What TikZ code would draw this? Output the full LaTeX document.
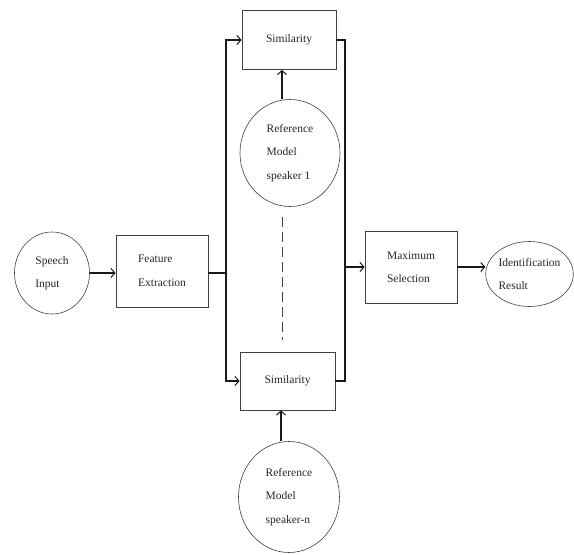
\documentclass[tikz,border=0pt]{standalone}
\usepackage{fontspec}
\setmainfont{Liberation Serif}
\usetikzlibrary{arrows.meta,shapes.geometric}
\begin{document}
\begin{tikzpicture}[x=1pt,y=-1pt,
  every node/.style={font=\fontsize{11.5}{23.5}\selectfont, text=black!85, align=left, inner sep=0pt},
  blk/.style={draw=black!75, line width=0.8pt, rectangle},
  circ/.style={draw=black!75, line width=0.6pt, ellipse},
  conn/.style={draw=black!90, line width=1.3pt},
  arr/.style={conn, -{Straight Barb[length=4pt,width=9pt,line width=1pt]}}
]
\useasboundingbox (0,0) rectangle (574,555);

\node[circ, minimum width=75pt, minimum height=82pt] (speech) at (52,273) {Speech\\Input};
\node[blk, minimum width=92pt, minimum height=72pt] (fe) at (162,271) {Feature\\Extraction};
\node[blk, minimum width=94pt, minimum height=59pt] (sim1) at (289,40) {Similarity};
\node[blk, minimum width=95pt, minimum height=58pt] (sim2) at (287.5,381) {Similarity};
\node[circ, minimum width=100pt, minimum height=107pt] (ref1) at (290,153) {Reference\\Model\\speaker 1};
\node[circ, minimum width=101pt, minimum height=111pt] (refn) at (289,497) {Reference\\Model\\speaker-n};
\node[blk, minimum width=92pt, minimum height=72pt] (max) at (411,267) {Maximum\\Selection};
\node[circ, minimum width=81pt, minimum height=65pt] (id) at (529.5,274) {Identification\\Result};

\coordinate (bl) at (226,273);
\coordinate (br) at (345,267);
\coordinate (d1) at (282,217);
\coordinate (d2) at (282,340);

% input to feature extraction
\draw[arr] (speech.east) -- (speech.east -| fe.west);
% feature extraction to left bus
\draw[conn] (fe.east |- bl) -- (bl);
\draw[arr] (sim2.west -| bl) -- (sim1.west -| bl) -- (sim1.west);
\draw[arr] (sim1.west -| bl) -- (sim2.west -| bl) -- (sim2.west);
% reference models to similarity
\draw[arr] ([xshift=-8pt]ref1.north) -- ([xshift=-8pt]ref1.north |- sim1.south);
\draw[arr] ([xshift=-8pt]refn.north) -- ([xshift=-8pt]refn.north |- sim2.south);
% dashed continuation
\draw[draw=black!75, line width=0.8pt, dash pattern=on 10pt off 5pt] (d1) -- (d2);
% right bus
\draw[conn] (sim1.east) -- (sim1.east -| br) -- (sim2.east -| br) -- (sim2.east);
\draw[arr] (br) -- (br -| max.west);
% to result
\draw[arr] (max.east) -- (max.east -| id.west);
\end{tikzpicture}
\end{document}
